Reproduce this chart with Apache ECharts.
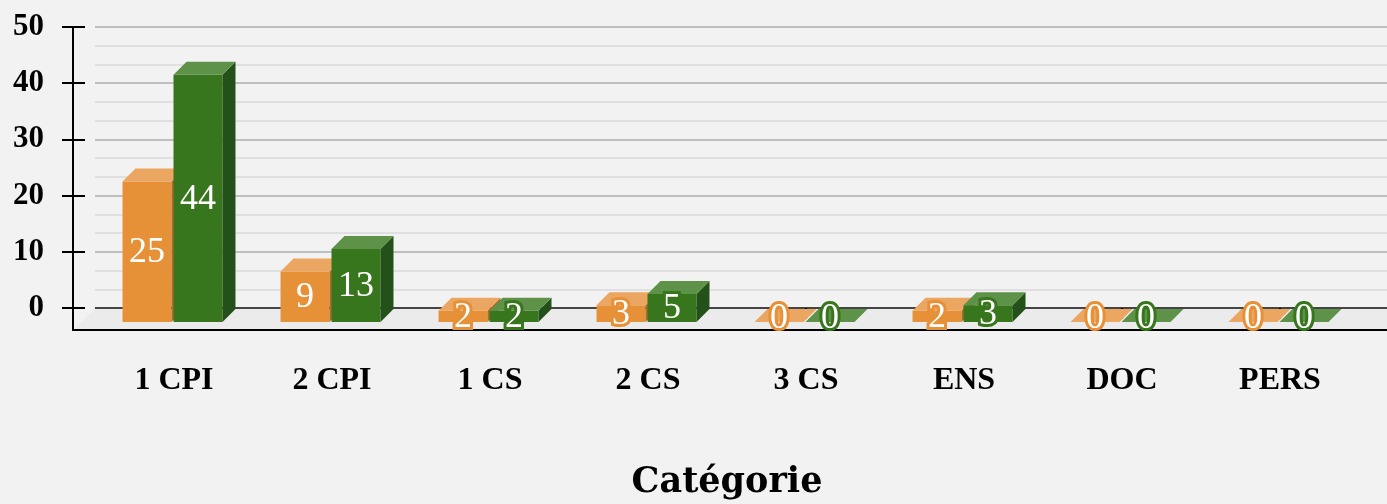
<!DOCTYPE html>
<html><head><meta charset="utf-8">
<script src="https://cdn.jsdelivr.net/npm/echarts@6/dist/echarts.min.js"></script>
<style>html,body{margin:0;padding:0;background:#f2f2f2;}#c{width:1387px;height:504px;}</style>
</head><body><div id="c"></div>
<script>
// ---- data ----
const categories = ['1 CPI', '2 CPI', '1 CS', '2 CS', '3 CS', 'ENS', 'DOC', 'PERS'];
const seriesA = [25, 9, 2, 3, 0, 2, 0, 0];   // orange
const seriesB = [44, 13, 2, 5, 0, 3, 0, 0];  // green
const yMin = 0, yMax = 50, yInterval = 10;
const xAxisTitle = 'Catégorie';

// ---- layout / style ----
const BACK_LEFT = 95, FRONT_LEFT = 73, TOP = 27;
const BACK_BOTTOM = 196, FRONT_BOTTOM = 174, PLOT_RIGHT = 28;
const FLOOR_DEPTH = 22, BAR_SHIFT = 14, BAR_DEPTH = 13;
const BAR_RATIO = 0.31, PAIR_OFFSET = -1.5, BAR_GAP = 2;
const SERIF = '"Liberation Serif", "DejaVu Serif", serif';
const palettes = [
  {front: '#E69138', top: '#EBA662', side: '#B06B26'},
  {front: '#38761D', top: '#5E9249', side: '#24501A'}
];

function makeRender(idx) {
  const pal = palettes[idx];
  return function (params, api) {
    const cat = api.value(0), v = api.value(1);
    const base = api.coord([cat, 0]);
    const topP = api.coord([cat, v]);
    const band = api.size([1, 0])[0];
    const bw = band * BAR_RATIO;
    const pc = base[0] + PAIR_OFFSET;
    const x0 = idx === 0 ? pc - BAR_GAP / 2 - bw : pc + BAR_GAP / 2;
    const x1 = x0 + bw;
    const yB = base[1] + BAR_SHIFT;
    const yT = topP[1] + BAR_SHIFT;
    const d = BAR_DEPTH;
    const children = [];
    if (yB - yT > 0.1) {
      children.push({type: 'rect', shape: {x: x0, y: yT, width: bw, height: yB - yT}, style: {fill: pal.front}});
      children.push({type: 'polygon', shape: {points: [[x1, yT], [x1 + d, yT - d], [x1 + d, yB - d], [x1, yB]]}, style: {fill: pal.side}});
    }
    children.push({type: 'polygon', shape: {points: [[x0, yT], [x1, yT], [x1 + d, yT - d], [x0 + d, yT - d]]}, style: {fill: pal.top}});
    const cy = Math.min((yT + yB) / 2, yB - 4);
    children.push({type: 'text', z2: 100, style: {
      text: String(v), x: (x0 + x1) / 2, y: cy + 1,
      fill: '#ffffff', stroke: pal.front, lineWidth: 6, strokeFirst: true,
      fontSize: 36, fontFamily: SERIF, align: 'center', verticalAlign: 'middle'
    }});
    return {type: 'group', children: children};
  };
}

const chart = echarts.init(document.getElementById('c'), null, {renderer: 'canvas'});
const W = 1387, H = 504;
const yBack = H - BACK_BOTTOM, yFront = H - FRONT_BOTTOM;

const option = {
  backgroundColor: '#f2f2f2',
  animation: false,
  graphic: [{
    type: 'polygon', z: 0, silent: true,
    shape: {points: [[FRONT_LEFT, yFront], [FRONT_LEFT + FLOOR_DEPTH, yBack], [W, yBack], [W, yFront]]},
    style: {fill: '#ebebeb'}
  }],
  grid: [
    {left: BACK_LEFT, right: PLOT_RIGHT, top: TOP, bottom: BACK_BOTTOM, outerBoundsMode: 'none', containLabel: false},
    {left: BACK_LEFT, right: 0, top: TOP, bottom: BACK_BOTTOM, outerBoundsMode: 'none', containLabel: false},
    {left: FRONT_LEFT, right: 0, top: TOP, bottom: FRONT_BOTTOM, outerBoundsMode: 'none', containLabel: false}
  ],
  xAxis: [
    {
      gridIndex: 0, type: 'category', data: categories, boundaryGap: true,
      position: 'bottom', offset: FLOOR_DEPTH,
      axisLine: {show: false},
      axisTick: {show: true, alignWithLabel: true, length: 11, lineStyle: {color: '#000', width: 2}},
      axisLabel: {color: '#000', fontFamily: SERIF, fontWeight: 'bold', fontSize: 32, margin: 35},
      name: xAxisTitle, nameLocation: 'middle', nameGap: 135,
      nameTextStyle: {color: '#000', fontFamily: '"DejaVu Serif", serif', fontWeight: 'bold', fontSize: 35}
    },
    {gridIndex: 1, type: 'value', min: 0, max: 1, show: false},
    {
      gridIndex: 2, type: 'value', min: 0, max: 1,
      axisLine: {show: true, onZero: false, lineStyle: {color: '#000', width: 2}},
      axisTick: {show: false}, axisLabel: {show: false}, splitLine: {show: false}
    }
  ],
  yAxis: [
    {
      gridIndex: 0, type: 'value', min: yMin, max: yMax, interval: yInterval,
      position: 'left', offset: FLOOR_DEPTH,
      axisLine: {show: false},
      axisTick: {show: true, length: 11, lineStyle: {color: '#000', width: 2}},
      axisLabel: {color: '#000', fontFamily: SERIF, fontWeight: 'bold', fontSize: 31, margin: 29, padding: [4, 0, 0, 0]},
      splitLine: {show: false}
    },
    {
      gridIndex: 0, type: 'value', min: yMin, max: yMax, interval: yInterval,
      position: 'left', offset: FLOOR_DEPTH,
      axisLine: {show: false},
      axisTick: {show: true, inside: true, length: 12, lineStyle: {color: '#000', width: 2}},
      axisLabel: {show: false}, splitLine: {show: false}
    },
    {
      gridIndex: 1, type: 'value', min: yMin, max: yMax, interval: yInterval,
      axisLine: {show: false}, axisTick: {show: false}, axisLabel: {show: false},
      splitLine: {show: true, lineStyle: {width: 2, color: ['#454545', '#bfbfbf', '#bfbfbf', '#bfbfbf', '#bfbfbf', '#bfbfbf']}},
      minorTick: {show: false, splitNumber: 3},
      minorSplitLine: {show: true, lineStyle: {width: 2, color: '#e0e0e0'}}
    },
    {
      gridIndex: 2, type: 'value', min: 0, max: 1,
      axisLine: {show: true, onZero: false, lineStyle: {color: '#000', width: 2}},
      axisTick: {show: false}, axisLabel: {show: false}, splitLine: {show: false}
    }
  ],
  series: [
    {type: 'custom', name: 'Série 1', xAxisIndex: 0, yAxisIndex: 0, renderItem: makeRender(0),
     data: seriesA.map((v, i) => [i, v]), encode: {x: 0, y: 1}},
    {type: 'custom', name: 'Série 2', xAxisIndex: 0, yAxisIndex: 0, renderItem: makeRender(1),
     data: seriesB.map((v, i) => [i, v]), encode: {x: 0, y: 1}}
  ]
};
chart.setOption(option);
</script>
</body></html>
